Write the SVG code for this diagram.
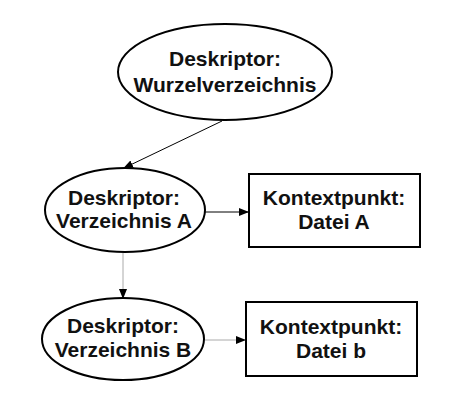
<svg xmlns="http://www.w3.org/2000/svg" width="454" height="416" viewBox="0 0 454 416">
<defs>
<style>
.n{fill:#fff;stroke:#000;stroke-width:2}
.t{font-family:"Liberation Sans",Arial,sans-serif;font-weight:bold;font-size:21px;text-anchor:middle;fill:#111}
.c{fill:none;stroke:#000;stroke-width:1}
.g{stroke:#aaa}
</style>
<marker id="ah" markerWidth="10" markerHeight="10" refX="9" refY="5" orient="auto" markerUnits="userSpaceOnUse">
<path d="M0,1 L10,5 L0,9 Z" fill="#000"/>
</marker>
</defs>
<rect width="454" height="416" fill="#fff"/>
<g id="connectors">
<line class="c" x1="222" y1="121" x2="124" y2="168" marker-end="url(#ah)"/>
<line class="c" x1="205" y1="212" x2="248" y2="212" marker-end="url(#ah)"/>
<line class="c g" x1="123" y1="253" x2="123" y2="298" marker-end="url(#ah)"/>
<line class="c g" x1="205" y1="340" x2="245" y2="340" marker-end="url(#ah)"/>
</g>
<g id="root">
<ellipse class="n" cx="225" cy="72" rx="107" ry="48"/>
<text class="t" x="225" y="66">Deskriptor:</text>
<text class="t" x="225" y="92">Wurzelverzeichnis</text>
</g>
<g id="dirA">
<ellipse class="n" cx="125" cy="210" rx="80" ry="42"/>
<text class="t" x="124" y="205">Deskriptor:</text>
<text class="t" x="124" y="228">Verzeichnis A</text>
</g>
<g id="fileA">
<rect class="n" x="249" y="174" width="171" height="73"/>
<text class="t" x="334" y="205">Kontextpunkt:</text>
<text class="t" x="334" y="229">Datei A</text>
</g>
<g id="dirB">
<ellipse class="n" cx="123" cy="339" rx="81" ry="41"/>
<text class="t" x="123" y="333">Deskriptor:</text>
<text class="t" x="123" y="357">Verzeichnis B</text>
</g>
<g id="fileB">
<rect class="n" x="246" y="302" width="171" height="74"/>
<text class="t" x="331" y="334">Kontextpunkt:</text>
<text class="t" x="331" y="358">Datei b</text>
</g>
</svg>
